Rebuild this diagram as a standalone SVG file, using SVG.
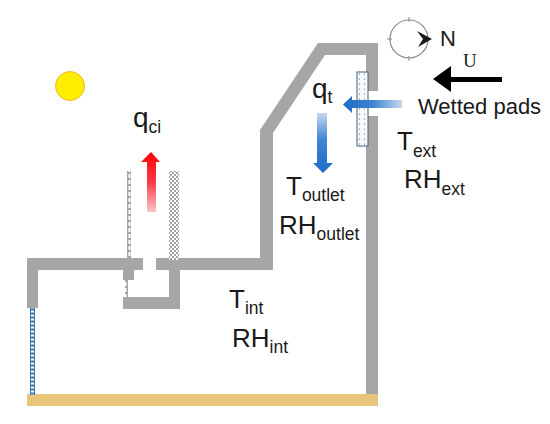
<svg xmlns="http://www.w3.org/2000/svg" width="550" height="424" viewBox="0 0 550 424">
<style>
.wall{fill:#a6a6a6}
.t{font-family:"Liberation Sans",Arial,sans-serif;fill:#1a1a1a;font-size:26px}
.s{font-size:17.500px}
</style>
<defs>
<linearGradient id="gr" x1="0" y1="0" x2="0" y2="1"><stop offset="0" stop-color="#ff0000"/><stop offset="0.5" stop-color="#fb3a46"/><stop offset="1" stop-color="#fbc4c8"/></linearGradient>
<linearGradient id="gd" x1="0" y1="0" x2="0" y2="1"><stop offset="0" stop-color="#c5d8ef"/><stop offset="0.45" stop-color="#3f84d2"/><stop offset="1" stop-color="#1c6cc8"/></linearGradient>
<linearGradient id="gl" x1="1" y1="0" x2="0" y2="0"><stop offset="0" stop-color="#c5d8ef"/><stop offset="0.5" stop-color="#3f84d2"/><stop offset="1" stop-color="#1c6cc8"/></linearGradient>
<pattern id="chk" width="4" height="4" patternUnits="userSpaceOnUse"><rect width="4" height="4" fill="#fff"/><rect width="2" height="2" fill="#a0a0a0"/><rect x="2" y="2" width="2" height="2" fill="#a0a0a0"/></pattern>
<pattern id="dash" x="127" width="4" height="6" patternUnits="userSpaceOnUse"><rect width="4" height="6" fill="#a6a6a6"/><rect x="1.500" y="0" width="2" height="4" fill="#fff"/></pattern>
<pattern id="lad" x="30" y="309" width="5" height="4" patternUnits="userSpaceOnUse"><rect width="5" height="4" fill="#3f74b4"/><rect x="1" y="1.500" width="3" height="2" fill="#fff"/></pattern>
<pattern id="dots" x="357" y="72" width="5" height="5" patternUnits="userSpaceOnUse"><rect width="5" height="5" fill="#f6fafc"/><circle cx="2.500" cy="2" r="0.600" fill="#4a5a68"/></pattern>
</defs>
<g id="building">
<path class="wall" d="M27 258H143V270H38V308H27Z"/>
<path class="wall" d="M156 258H260V130L318 43H378V91H366V55H325L273 133V270H156Z"/>
<rect class="wall" x="366" y="116" width="12" height="279"/>
<path class="wall" d="M123 270H134V280H123ZM169 270H180V309H123V297H169Z"/>
<rect id="floor" x="27" y="394" width="351" height="12" fill="#e6c478"/>
</g>
<g id="pads">
<rect x="30" y="308" width="5" height="87" fill="url(#lad)"/>
<rect x="125" y="280" width="3" height="17" fill="url(#dash)"/>
<rect x="127" y="171" width="4" height="87" fill="url(#dash)"/>
<rect x="169" y="171" width="10" height="89" fill="url(#chk)"/>
<rect x="357" y="72" width="11" height="74" fill="url(#dots)" stroke="#3f5f80" stroke-width="1"/>
</g>
<g id="sun"><circle cx="70" cy="86" r="14.500" fill="#ffee00" stroke="#f2b632" stroke-width="1"/></g>
<g id="compass">
<circle cx="409" cy="39" r="19" fill="none" stroke="#888" stroke-width="1.200"/>
<path d="M409 17V22M409 56V61M387 39H392" stroke="#888" stroke-width="1" fill="none"/>
<path d="M417 31L432 39L418 47L423 39Z" fill="#1a1a1a"/>
</g>
<g id="connectors">
<path d="M147 212V162H141L151 152L160 162H156V212Z" fill="url(#gr)"/>
<path d="M317 113H327V163H333L323 173L313 163H317Z" fill="url(#gd)"/>
<path d="M402 100V108H352V113L343 104.500L352 96V100Z" fill="url(#gl)"/>
<path d="M502 77V82H451V92L433 79L451 66V77Z" fill="#000"/>
</g>
<g id="labels">
<text class="t" x="133" y="127" style="font-size:28px">q<tspan class="s" dy="6">ci</tspan></text>
<text class="t" x="312" y="98" style="font-size:28px">q<tspan class="s" dy="5">t</tspan></text>
<text class="t" x="286" y="195">T<tspan class="s" dy="6">outlet</tspan></text>
<text class="t" x="279" y="234">RH<tspan class="s" dy="6">outlet</tspan></text>
<text class="t" x="229" y="308">T<tspan class="s" dy="6">int</tspan></text>
<text class="t" x="232" y="347">RH<tspan class="s" dy="6">int</tspan></text>
<text class="t" x="397" y="150">T<tspan class="s" dy="7">ext</tspan></text>
<text class="t" x="404" y="188">RH<tspan class="s" dy="7">ext</tspan></text>
<text x="440" y="46" style="font-family:'Liberation Sans',sans-serif;font-size:22px;fill:#1a1a1a">N</text>
<text x="463" y="67" style="font-family:'Liberation Serif',serif;font-size:19px;fill:#1a1a1a">U</text>
<text x="418" y="114" style="font-family:'Liberation Sans',sans-serif;font-size:22px;fill:#1a1a1a">Wetted pads</text>
</g>
</svg>
